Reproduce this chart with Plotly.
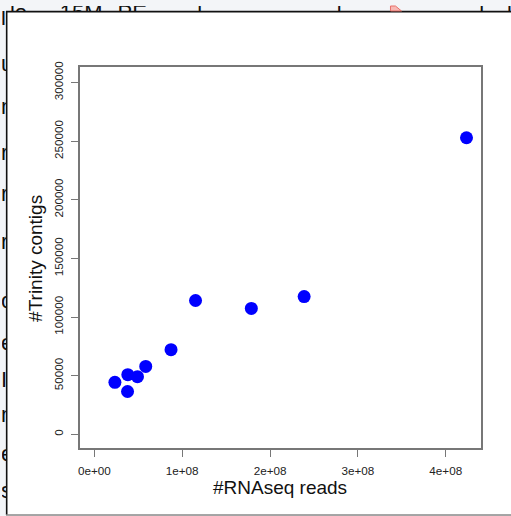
import plotly.graph_objects as go

# ---- data ----
reads = [0.234e8, 0.378e8, 0.381e8, 0.491e8, 0.585e8, 0.873e8, 1.152e8, 1.787e8, 2.388e8, 4.236e8]
contigs = [44350, 36500, 50850, 49150, 57850, 72200, 114100, 107350, 117450, 252950]

x_tickvals = [0, 1e8, 2e8, 3e8, 4e8]
x_ticktext = ["0e+00", "1e+08", "2e+08", "3e+08", "4e+08"]
y_tickvals = [0, 50000, 100000, 150000, 200000, 250000, 300000]
y_ticktext = ["0", "50000", "100000", "150000", "200000", "250000", "300000"]

x_title = "#RNAseq reads"
y_title = "#Trinity contigs"

# background page text fragments (partially hidden behind the popup)
top_words = ["lo", "15M", "PE", "l", "l", "l", "l"]
top_word_x = [8, 58, 116, 196, 336, 479, 507]
left_chars = ["l", "u", "n", "r", "r", "r", "o", "e", "I", "n", "e", "s"]
left_char_y = [14, 60, 104, 150, 192, 240, 300, 342, 380, 415, 455, 492]

W, H = 511, 516
FONT = "Liberation Sans, Arial, sans-serif"


def px_x(p):
    return p / W


def px_y(p):
    return 1 - p / H


fig = go.Figure()

# main scatter
fig.add_trace(go.Scatter(
    x=reads, y=contigs, mode="markers",
    marker=dict(color="#0000ff", size=13, line=dict(width=0)),
    xaxis="x", yaxis="y", showlegend=False, hoverinfo="skip",
))

# top strip background text
fig.add_trace(go.Scatter(
    x=top_word_x, y=[9] * len(top_words), mode="text", text=top_words,
    textposition="middle right",
    textfont=dict(family=FONT, size=22, color="#111"),
    xaxis="x2", yaxis="y2", showlegend=False, hoverinfo="skip", cliponaxis=True,
))
# left strip background text
fig.add_trace(go.Scatter(
    x=[-1] * len(left_chars), y=left_char_y, mode="text", text=left_chars,
    textposition="middle right",
    textfont=dict(family=FONT, size=22, color="#111"),
    xaxis="x3", yaxis="y3", showlegend=False, hoverinfo="skip", cliponaxis=True,
))

plot_l, plot_r, plot_t, plot_b = 78, 481, 62, 447
axis_col = "#777777"

fig.update_layout(
    width=W, height=H,
    margin=dict(l=0, r=0, t=0, b=0, pad=0),
    paper_bgcolor="#f3f5f8",
    plot_bgcolor="rgba(0,0,0,0)",
    font=dict(family=FONT, color="#222"),
    xaxis=dict(
        domain=[plot_l / W, plot_r / W], anchor="y",
        range=[-0.1667e8, 4.4025e8],
        tickvals=x_tickvals, ticktext=x_ticktext,
        ticks="outside", ticklen=7, tickcolor=axis_col, tickwidth=1,
        showline=True, linecolor=axis_col, linewidth=1.5, mirror=True,
        showgrid=False, zeroline=False,
        tickfont=dict(family=FONT, size=11.7, color="#222"),
        ticklabelstandoff=4,
    ),
    yaxis=dict(
        domain=[1 - plot_b / H, 1 - plot_t / H], anchor="x",
        range=[-11550, 313070],
        tickvals=y_tickvals, ticktext=y_ticktext, tickangle=-90,
        ticks="outside", ticklen=7, tickcolor=axis_col, tickwidth=1,
        showline=True, linecolor=axis_col, linewidth=1.5, mirror=True,
        showgrid=False, zeroline=False,
        tickfont=dict(family=FONT, size=11.7, color="#222"),
        ticklabelstandoff=3,
    ),
    xaxis2=dict(domain=[0, 1], range=[0, W], anchor="y2", visible=False, fixedrange=True),
    yaxis2=dict(domain=[1 - 5 / H, 1], range=[5, 0], anchor="x2", visible=False, fixedrange=True),
    xaxis3=dict(domain=[0, 4 / W], range=[0, 4], anchor="y3", visible=False, fixedrange=True),
    yaxis3=dict(domain=[0, 1 - 5 / H], range=[H, 5], anchor="x3", visible=False, fixedrange=True),
    showlegend=False,
)

shapes = [
    # popup (white dialog)
    dict(type="rect", xref="paper", yref="paper", layer="below",
         x0=px_x(4), x1=px_x(W + 5), y0=px_y(515), y1=px_y(5.5),
         fillcolor="white", line=dict(width=0)),
    # popup borders
    dict(type="line", xref="paper", yref="paper", layer="above",
         x0=px_x(4), x1=px_x(W), y0=px_y(5.7), y1=px_y(5.7),
         line=dict(color="#111", width=1.6)),
    dict(type="line", xref="paper", yref="paper", layer="above",
         x0=px_x(4.7), x1=px_x(4.7), y0=px_y(515), y1=px_y(5.5),
         line=dict(color="#111", width=1.6)),
    dict(type="line", xref="paper", yref="paper", layer="above",
         x0=px_x(4), x1=px_x(W), y0=px_y(515), y1=px_y(515),
         line=dict(color="#888", width=1.5)),
    # small red icon corner in the page behind
    dict(type="path", xref="paper", yref="paper", layer="above",
         path=f"M {px_x(390)},{px_y(0)} L {px_x(395)},{px_y(0)} L {px_x(401)},{px_y(5)} L {px_x(390)},{px_y(5)} Z",
         fillcolor="#f8b8b4", line=dict(color="#e8706a", width=1)),
]
fig.update_layout(shapes=shapes)

fig.add_annotation(
    text=x_title, xref="paper", yref="paper",
    x=px_x(279), y=px_y(487), xanchor="center", yanchor="middle",
    showarrow=False, font=dict(family=FONT, size=19, color="#111"),
)
fig.add_annotation(
    text=y_title, xref="paper", yref="paper",
    x=px_x(33), y=px_y(255), xanchor="center", yanchor="middle", textangle=-90,
    showarrow=False, font=dict(family=FONT, size=19, color="#111"),
)

fig.write_html("out.html")
